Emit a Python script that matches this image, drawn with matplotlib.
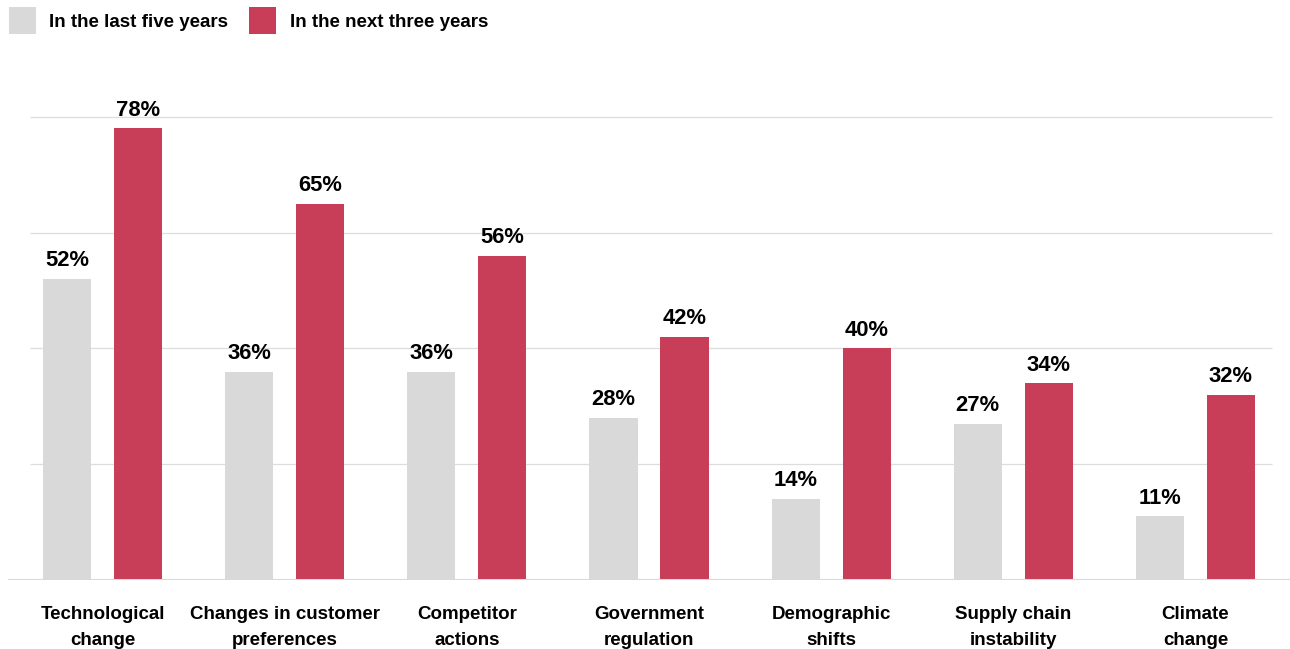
import numpy as np
import matplotlib.pyplot as plt
from matplotlib.patches import Patch

categorias = ["Technological\nchange", "Changes in customer\npreferences", "Competitor\nactions",
              "Government\nregulation", "Demographic\nshifts", "Supply chain\ninstability",
              "Climate\nchange"]
ultimos_cinco = [52, 36, 36, 28, 14, 27, 11]
proximos_tres = [78, 65, 56, 42, 40, 34, 32]
series = ["In the last five years", "In the next three years"]

gris = "#d9d9d9"
rojo = "#c83d58"

plt.rcParams['font.family'] = ['Liberation Sans', 'DejaVu Sans']
plt.rcParams['font.weight'] = 'bold'

fig = plt.figure(figsize=(12.9, 6.49), dpi=100)
ax = fig.add_axes([8 / 1290, 69 / 649, 1282 / 1290, 480 / 649])

x = np.arange(len(categorias))
ancho = 0.264
desp = 0.195

ax.bar(x - desp, ultimos_cinco, ancho, color=gris, zorder=2)
ax.bar(x + desp, proximos_tres, ancho, color=rojo, zorder=2)

# etiquetas de valor
for xi, v in zip(x - desp, ultimos_cinco):
    ax.annotate(f"{v}%", (xi, v), xytext=(0, 9), textcoords="offset points",
                ha="center", va="baseline", fontsize=15.8, fontweight="bold")
for xi, v in zip(x + desp, proximos_tres):
    ax.annotate(f"{v}%", (xi, v), xytext=(0, 9), textcoords="offset points",
                ha="center", va="baseline", fontsize=15.8, fontweight="bold")

ax.set_xlim(-0.519, len(categorias) - 1 + 0.519)
ax.set_ylim(0, 480 / 5.79)

# lineas de grilla
ax.hlines([20, 40, 60, 80], -0.398, len(categorias) - 1 + 0.42, color="#dddddd", lw=0.9, zorder=1)
ax.axhline(0, color=gris, lw=2.2, zorder=3)

ax.set_xticks(x)
ax.set_xticklabels(categorias, fontsize=13.5, fontweight="bold", linespacing=1.72)
ax.tick_params(axis="x", length=0, pad=18.5)
ax.set_yticks([])
for s in ax.spines.values():
    s.set_visible(False)

handles = [Patch(facecolor=gris), Patch(facecolor=rojo)]
fig.legend(handles, series, loc="upper left", bbox_to_anchor=(9 / 1290, 1 - 7 / 649),
           ncol=2, frameon=False, borderpad=0, borderaxespad=0,
           handlelength=1.44, handleheight=1.84, handletextpad=0.72, columnspacing=1.1,
           prop={"size": 13.5, "weight": "bold"})

fig.savefig("out.png", dpi=100)
